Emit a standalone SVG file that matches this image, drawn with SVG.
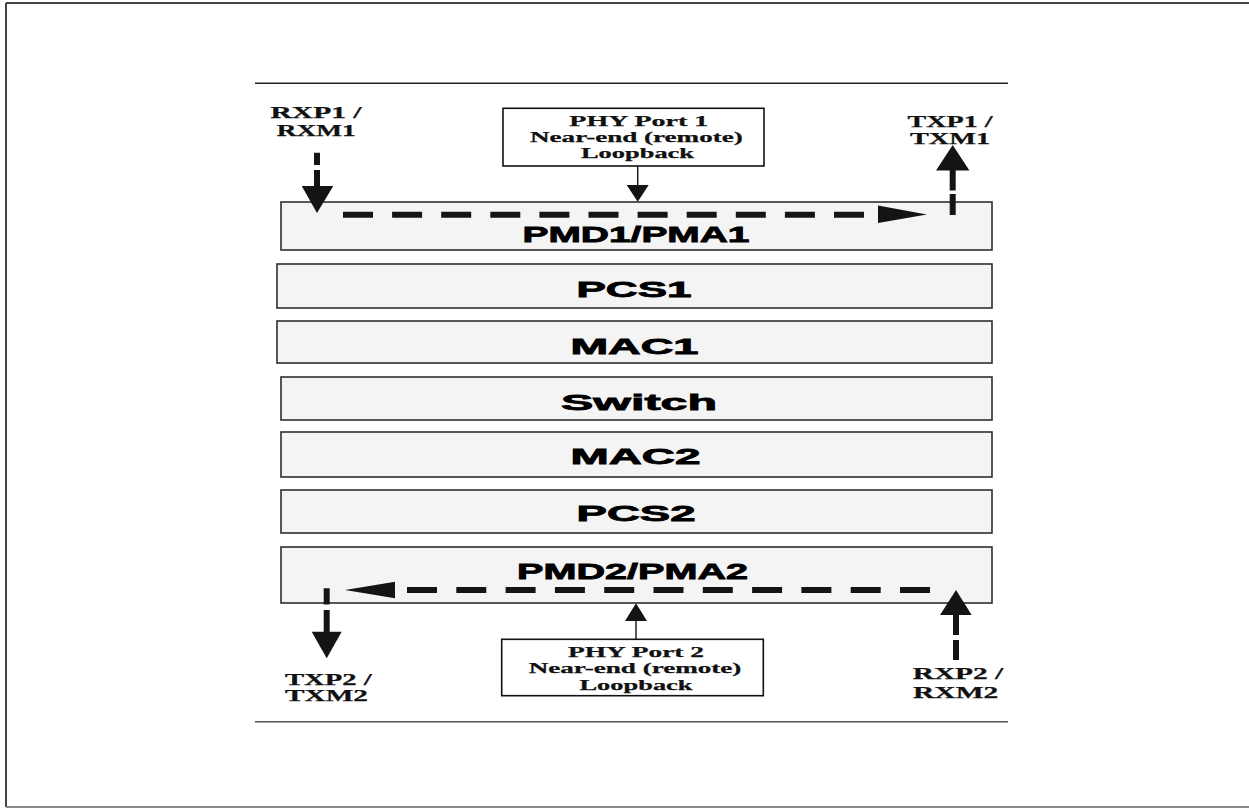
<svg xmlns="http://www.w3.org/2000/svg" width="1249" height="808" viewBox="0 0 1249 808">
<style>
.layer rect{fill:#f4f4f4;stroke:#2e2e2e;stroke-width:1.6}
.layer text{font-family:"Liberation Sans",Arial,sans-serif;font-weight:bold;font-size:22.5px;fill:#000;stroke:#000;stroke-width:0.8;text-anchor:middle}
.callout rect{fill:#fff;stroke:#111;stroke-width:1.6}
.callout text,.pin text{font-family:"Liberation Serif","Times New Roman",serif;font-weight:bold;fill:#111;text-anchor:middle;stroke:#111;stroke-width:0.25}
.callout text{font-size:14px}
.pin text{font-size:16px}
.dash{fill:none;stroke:#141414;stroke-width:6}
.stem{fill:none;stroke:#111;stroke-width:1.4}
.head{fill:#141414}
</style>
<rect width="1249" height="808" fill="#fff"/>
<g id="frame">
<line x1="6" y1="3" x2="1249" y2="3" stroke="#444" stroke-width="2"/>
<line x1="6" y1="3" x2="6" y2="807" stroke="#444" stroke-width="2"/>
<line x1="6" y1="807" x2="1249" y2="807" stroke="#888" stroke-width="2"/>
<line x1="255" y1="83.3" x2="1008" y2="83.3" stroke="#222" stroke-width="1.5"/>
<line x1="255" y1="721.7" x2="1008" y2="721.7" stroke="#555" stroke-width="1.5"/>
</g>
<g id="pmd1" class="layer"><rect x="281" y="202" width="711" height="48"/><text x="636" y="242" textLength="227" lengthAdjust="spacingAndGlyphs">PMD1/PMA1</text></g>
<g id="pcs1" class="layer"><rect x="277" y="264" width="715" height="44"/><text x="634" y="296.5" textLength="115" lengthAdjust="spacingAndGlyphs">PCS1</text></g>
<g id="mac1" class="layer"><rect x="277" y="321" width="715" height="42"/><text x="634.5" y="353.5" textLength="128" lengthAdjust="spacingAndGlyphs">MAC1</text></g>
<g id="switch" class="layer"><rect x="281" y="377" width="711" height="43"/><text x="639" y="409.5" textLength="156" lengthAdjust="spacingAndGlyphs">Switch</text></g>
<g id="mac2" class="layer"><rect x="281" y="432" width="711" height="45"/><text x="635.5" y="463.5" textLength="130" lengthAdjust="spacingAndGlyphs">MAC2</text></g>
<g id="pcs2" class="layer"><rect x="281" y="490" width="711" height="43"/><text x="636" y="520.5" textLength="119" lengthAdjust="spacingAndGlyphs">PCS2</text></g>
<g id="pmd2" class="layer"><rect x="281" y="547" width="711" height="56"/><text x="632.5" y="578.5" textLength="231" lengthAdjust="spacingAndGlyphs">PMD2/PMA2</text></g>
<g id="callout1" class="callout"><rect x="503" y="108.3" width="261" height="57.7"/>
<text x="638.8" y="126" textLength="139" lengthAdjust="spacingAndGlyphs">PHY Port 1</text>
<text x="636.4" y="142" textLength="212.7" lengthAdjust="spacingAndGlyphs">Near-end (remote)</text>
<text x="637.5" y="158.3" textLength="113" lengthAdjust="spacingAndGlyphs">Loopback</text></g>
<g id="callout2" class="callout"><rect x="501.7" y="639.3" width="261.6" height="56.4"/>
<text x="636" y="657" textLength="136" lengthAdjust="spacingAndGlyphs">PHY Port 2</text>
<text x="635" y="673" textLength="212.7" lengthAdjust="spacingAndGlyphs">Near-end (remote)</text>
<text x="636" y="689.5" textLength="113" lengthAdjust="spacingAndGlyphs">Loopback</text></g>
<g id="pin-rx1" class="pin"><text x="316" y="117.5" textLength="91" lengthAdjust="spacingAndGlyphs">RXP1 /</text><text x="316.3" y="136" textLength="79" lengthAdjust="spacingAndGlyphs">RXM1</text></g>
<g id="pin-tx1" class="pin"><text x="950" y="127" textLength="85" lengthAdjust="spacingAndGlyphs">TXP1 /</text><text x="950" y="144.3" textLength="80" lengthAdjust="spacingAndGlyphs">TXM1</text></g>
<g id="pin-tx2" class="pin"><text x="328.3" y="685.3" textLength="86.7" lengthAdjust="spacingAndGlyphs">TXP2 /</text><text x="326.5" y="701" textLength="83" lengthAdjust="spacingAndGlyphs">TXM2</text></g>
<g id="pin-rx2" class="pin"><text x="958" y="678.5" textLength="90.6" lengthAdjust="spacingAndGlyphs">RXP2 /</text><text x="955.7" y="698.3" textLength="85.3" lengthAdjust="spacingAndGlyphs">RXM2</text></g>
<g id="connectors">
<path class="dash" d="M317 152.7V165M317 170V186.5"/>
<polygon class="head" points="301.7,186 333.3,186 317,213"/>
<line class="dash" x1="343" y1="214.7" x2="864" y2="214.7" stroke-dasharray="30 19.1"/>
<polygon class="head" points="878,205.5 878,223 927,214.5"/>
<path class="dash" d="M952.7 215V194M952.7 190.5V170"/>
<polygon class="head" points="936,170.5 969.4,170.5 952.7,145"/>
<line class="stem" x1="637.7" y1="166" x2="637.7" y2="186"/>
<polygon class="head" points="626.7,185 648.7,185 637.7,201.7"/>
<line class="dash" x1="930" y1="590" x2="406" y2="590" stroke-dasharray="30 19.3"/>
<polygon class="head" points="395,581.7 395,598.3 345,590"/>
<path class="dash" d="M326.7 588.3V604.5M326.7 610V632"/>
<polygon class="head" points="311.7,631.7 341.7,631.7 326.7,658.3"/>
<path class="dash" d="M956 660V640M956 635V614"/>
<polygon class="head" points="940,615 971.7,615 956,590"/>
<line class="stem" x1="636" y1="639.3" x2="636" y2="620"/>
<polygon class="head" points="625,621 647,621 636,603.3"/>
</g>
</svg>
